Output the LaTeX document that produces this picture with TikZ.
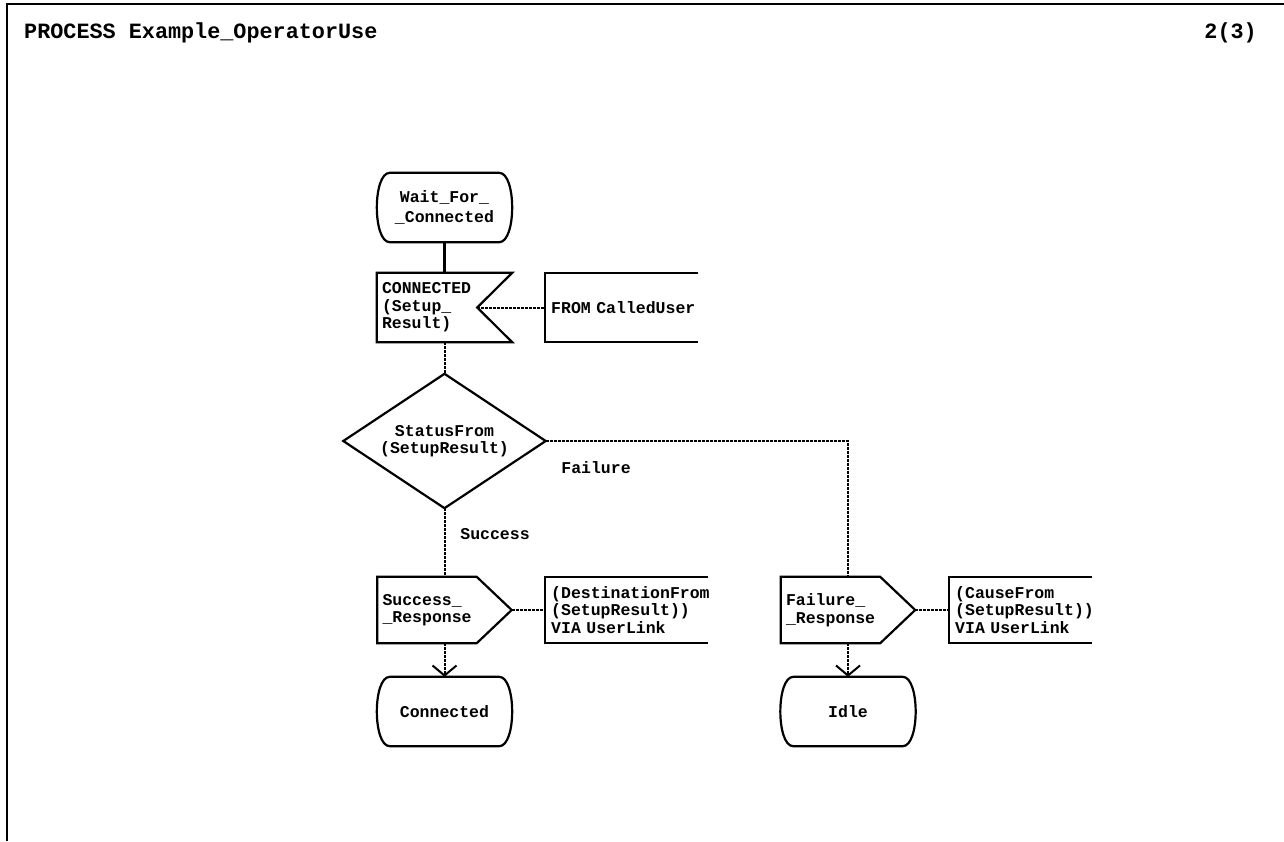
\documentclass[tikz,border=0pt]{standalone}
\usepackage{fontspec}
\setmonofont{Liberation Mono}
\usepackage{tikz}
\usetikzlibrary{calc,arrows.meta}
\newcommand{\unitsize}{1pt}
\newcommand{\notchdepth}{35}
\newcommand{\drawstate}[1]{
	\draw[symbol] ($(#1.north west)+(13,0)$) -- ($(#1.north east)+(-13,0)$)
		.. controls ($(#1.north east)+(4.3,0)$) and ($(#1.south east)+(4.3,0)$) .. ($(#1.south east)+(-13,0)$)
		-- ($(#1.south west)+(13,0)$)
		.. controls ($(#1.south west)+(-4.3,0)$) and ($(#1.north west)+(-4.3,0)$) .. cycle;
}
\newcommand{\drawinput}[1]{
	\draw[symbol] (#1.north west) -- (#1.north east) -- ($(#1.east)+(-\notchdepth,0)$)
		-- (#1.south east) -- (#1.south west) -- cycle;
}
\newcommand{\drawoutput}[1]{
	\draw[symbol] (#1.north west) -- ($(#1.north east)+(-\notchdepth,0)$) -- (#1.east)
		-- ($(#1.south east)+(-\notchdepth,0)$) -- (#1.south west) -- cycle;
}
\newcommand{\drawdecision}[1]{
	\draw[symbol] (#1.north) -- (#1.east) -- (#1.south) -- (#1.west) -- cycle;
}
\newcommand{\drawnote}[2]{
	\draw[symbol] ($(#1.north west)+(#2,0)$) -- (#1.north west) -- (#1.south west) -- ($(#1.south west)+(#2,0)$);
}

\begin{document}
\begin{tikzpicture}[x=\unitsize,y=-\unitsize,
	sdl/.style={font=\ttfamily\bfseries\fontsize{16.5pt}{17.5pt}\selectfont, inner sep=0pt},
	statebox/.style={sdl, minimum width=135pt, minimum height=69pt, text width=115pt, align=center,
		font=\ttfamily\bfseries\fontsize{16.5pt}{20pt}\selectfont},
	inputbox/.style={sdl, minimum height=69pt, inner xsep=5pt, text width=125pt, align=left},
	outputbox/.style={sdl, minimum height=66pt, inner xsep=5pt, text width=124pt, align=left},
	notebox/.style={sdl, anchor=west, inner xsep=6pt, text width=170pt, align=left},
	decisionbox/.style={sdl, minimum width=202pt, minimum height=134pt, align=center},
	heading/.style={font=\ttfamily\bfseries\fontsize{21.8pt}{24pt}\selectfont, inner sep=0pt},
	symbol/.style={line width=2.2pt, line join=miter},
	flow/.style={line width=2.2pt},
	signal/.style={line width=2pt, dash pattern=on 3pt off 1pt},
	frame/.style={line width=2.4pt}]
	\useasboundingbox (0,0) rectangle (1284,841);
	\draw[frame] (7,841) -- (7,4) -- (1284,4);
	\node[heading, anchor=base west] (title) at (24,38) {PROCESS Example\_OperatorUse};
	\node[heading, anchor=base east] (page) at (1257,38) {2(3)};

	\node[statebox] (waitconn) at (444.5,207.5) {Wait\_For\_\\\_Connected};
	\node[inputbox] (connin) at (444.5,307.5) {CONNECTED\\(Setup\_\\Result)};
	\coordinate (connin notch) at ($(connin.east)+(-\notchdepth,0)$);
	\node[notebox, minimum height=69pt] (fromnote) at (545,307.5) {FROM CalledUser};
	\node[decisionbox] (status) at (444.5,441) {StatusFrom\\(SetupResult)};
	\node[sdl] (faillabel) at (596,468) {Failure};
	\node[sdl] (succlabel) at (495,534) {Success};

	\node[outputbox] (succout) at (444.5,610) {Success\_\\\_Response};
	\node[notebox, minimum height=66pt] (destnote) at (545,610) {(DestinationFrom\\(SetupResult))\\VIA UserLink};
	\node[statebox] (connstate) at (444.5,711.5) {Connected};

	\node[outputbox] (failout) at (848,610) {Failure\_\\\_Response};
	\node[notebox, minimum height=66pt] (causenote) at (949,610) {(CauseFrom\\(SetupResult))\\VIA UserLink};
	\node[statebox] (idle) at (848,711.5) {Idle};

	\drawstate{waitconn}
	\drawinput{connin}
	\drawnote{fromnote}{153}
	\drawdecision{status}
	\drawoutput{succout}
	\drawnote{destnote}{163}
	\drawstate{connstate}
	\drawoutput{failout}
	\drawnote{causenote}{143}
	\drawstate{idle}

	\draw[flow] (waitconn.south) -- (connin.north);
	\draw[signal] (connin notch) -- (fromnote.west);
	\draw[signal] (connin.south) -- (status.north);
	\draw[signal] (status.east) -| (failout.north);
	\draw[signal] (status.south) -- (succout.north);
	\draw[signal] (succout.east) -- (destnote.west);
	\draw[signal] (failout.east) -- (causenote.west);
	\draw[signal, -{Straight Barb[length=10pt,width=24pt,line width=2pt]}] (succout.south) -- (connstate.north);
	\draw[signal, -{Straight Barb[length=10pt,width=24pt,line width=2pt]}] (failout.south) -- (idle.north);
\end{tikzpicture}
\end{document}
